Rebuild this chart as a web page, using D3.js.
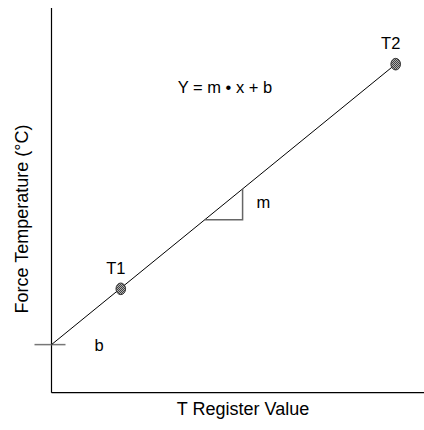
<!DOCTYPE html>
<html lang="en">
<head>
<meta charset="utf-8">
<title>Force Temperature</title>
<script src="https://cdn.jsdelivr.net/npm/d3@7"></script>
<style>
  body { margin: 0; background: #fff; }
  text { font-family: "Liberation Sans", Arial, sans-serif; fill: #000; }
</style>
</head>
<body>
<script>
// calibration points (register value, temperature), arbitrary units
var pointNames = ["T1", "T2"];
var pointX = [1.86, 9.24];
var pointY = [2.70, 8.54];
var intercept = 1.25;   // b
var slope = 0.789;      // m
var slopeMarkX = [4.11, 5.13];  // run of the little slope triangle
var equation = "Y = m \u2022 x + b";
var xTitle = "T Register Value";
var yTitle = "Force Temperature (\u00B0C)";

var w = 424, h = 430;
var x = d3.scaleLinear().domain([0, 10]).range([51.5, 424]);
var y = d3.scaleLinear().domain([0, 10]).range([392.7, 8]);
var f = function(v) { return intercept + slope * v; };

var svg = d3.select("body").append("svg")
  .attr("width", w).attr("height", h);

// hatched fill for the markers
var pat = svg.append("defs").append("pattern")
  .attr("id", "dots").attr("patternUnits", "userSpaceOnUse")
  .attr("width", 2).attr("height", 2);
pat.append("rect").attr("width", 2).attr("height", 2).attr("fill", "#b0b0b0");
pat.append("rect").attr("width", 1).attr("height", 1).attr("fill", "#404040");
pat.append("rect").attr("x", 1).attr("y", 1).attr("width", 1).attr("height", 1).attr("fill", "#404040");

// axes (no ticks)
svg.append("line")
  .attr("x1", x(0)).attr("x2", x(0)).attr("y1", y(10)).attr("y2", y(0))
  .attr("stroke", "#000").attr("stroke-width", 1.2);
svg.append("line")
  .attr("x1", x(0)).attr("x2", x(10)).attr("y1", y(0)).attr("y2", y(0))
  .attr("stroke", "#000").attr("stroke-width", 1.2);

// b tick
svg.append("line")
  .attr("x1", x(0) - 17).attr("x2", x(0) + 14)
  .attr("y1", y(intercept)).attr("y2", y(intercept))
  .attr("stroke", "#777").attr("stroke-width", 1.5);
svg.append("text").attr("x", x(0) + 43).attr("y", y(intercept) + 6)
  .attr("font-size", 16.5).text("b");

// fit line from b to T2
svg.append("line")
  .attr("x1", x(0)).attr("y1", y(intercept))
  .attr("x2", x(pointX[1])).attr("y2", y(f(pointX[1])))
  .attr("stroke", "#000").attr("stroke-width", 1);

// slope triangle
var x0 = slopeMarkX[0], x1 = slopeMarkX[1];
svg.append("path")
  .attr("d", "M" + x(x0) + "," + y(f(x0)) + "H" + x(x1) + "V" + y(f(x1)))
  .attr("fill", "none").attr("stroke", "#666").attr("stroke-width", 1.5);
svg.append("text").attr("x", x(x1) + 14).attr("y", y((f(x0) + f(x1)) / 2) + 4)
  .attr("font-size", 16.5).text("m");

// calibration markers
svg.selectAll("ellipse.pt").data(pointX).enter().append("ellipse")
  .attr("class", "pt")
  .attr("cx", function(d) { return x(d); })
  .attr("cy", function(d, i) { return y(pointY[i]); })
  .attr("rx", 4.8).attr("ry", 5.8)
  .attr("fill", "url(#dots)").attr("stroke", "#333").attr("stroke-width", 1);
svg.selectAll("text.pt").data(pointX).enter().append("text")
  .attr("class", "pt")
  .attr("x", function(d) { return x(d) - 5; })
  .attr("y", function(d, i) { return y(pointY[i]) - 15; })
  .attr("text-anchor", "middle").attr("font-size", 16.5)
  .text(function(d, i) { return pointNames[i]; });

svg.append("text").attr("x", 225).attr("y", 93)
  .attr("text-anchor", "middle").attr("font-size", 16.5).text(equation);

svg.append("text").attr("x", 243).attr("y", 415)
  .attr("text-anchor", "middle").attr("font-size", 18).text(xTitle);
svg.append("text")
  .attr("transform", "translate(28,219) rotate(-90)")
  .attr("text-anchor", "middle").attr("font-size", 18).text(yTitle);
</script>
</body>
</html>
